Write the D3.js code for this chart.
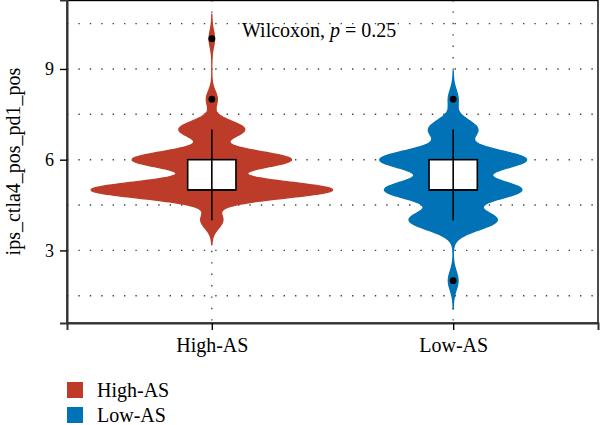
<!DOCTYPE html>
<html>
<head>
<meta charset="utf-8">
<script src="https://cdn.jsdelivr.net/npm/d3@7"></script>
<style>
  body { margin: 0; background: #fff; }
  text { font-family: "Liberation Serif", "DejaVu Serif", serif; fill: #000; }
</style>
</head>
<body>
<div id="chart"></div>
<script>
// groups and colours
const groups = ["High-AS", "Low-AS"];
const groupColors = ["#BC3C29", "#0072B5"];

// IPS scores (integers) and how many samples sit on each score, per group
const scores = [2, 3, 4, 5, 6, 7, 8, 9, 10];
const highCounts = [0, 0, 4, 44, 29, 12, 2, 0, 1];
const lowCounts = [1, 0, 9, 14, 15, 5, 1, 0, 0];

const yTicks = [3, 6, 9];
const yMinorGrid = [1.5, 4.5, 7.5, 10.5];
const yTitle = "ips_ctla4_pos_pd1_pos";
const pValue = "0.25";

const width = 600, height = 425;
const margin = { left: 67, right: 2, top: 0, bottom: 102 };

const svg = d3.select("#chart").append("svg")
    .attr("width", width)
    .attr("height", height)
    .attr("viewBox", [0, 0, width, height]);

const xScale = d3.scaleLinear([0.4, 2.6], [margin.left, width - margin.right]);
const yScale = d3.scaleLinear([0.6, 11.28], [height - margin.bottom, margin.top]);

function expand(counts) {
    const values = [];
    counts.forEach((c, i) => { for (let k = 0; k < c; k++) values.push(scores[i]); });
    return values;
}

// R's bw.nrd0
function bandwidth(values) {
    const iqr = d3.quantile(values, 0.75) - d3.quantile(values, 0.25);
    const lo = Math.min(d3.deviation(values), iqr / 1.34);
    return 0.9 * lo * Math.pow(values.length, -0.2);
}

function kde(values, bw) {
    const lo = d3.min(values) - 3 * bw, hi = d3.max(values) + 3 * bw;
    const pts = d3.range(512).map(i => lo + (hi - lo) * i / 511);
    const k = 1 / (Math.sqrt(2 * Math.PI) * bw * values.length);
    return pts.map(y => ({
        y: y,
        d: k * d3.sum(values, v => Math.exp(-0.5 * ((y - v) / bw) ** 2))
    }));
}

function boxStats(values) {
    const q1 = d3.quantile(values, 0.25), q3 = d3.quantile(values, 0.75);
    const med = d3.quantile(values, 0.5);
    const iqr = q3 - q1;
    const inside = values.filter(v => v >= q1 - 1.5 * iqr && v <= q3 + 1.5 * iqr);
    const outliers = Array.from(new Set(values.filter(v => v < q1 - 1.5 * iqr || v > q3 + 1.5 * iqr)));
    return { q1, q3, med, lo: d3.min(inside), hi: d3.max(inside), outliers };
}

const data = [highCounts, lowCounts].map((counts, i) => {
    const values = expand(counts);
    const bw = bandwidth(values);
    return { name: groups[i], color: groupColors[i], pos: i + 1, dens: kde(values, bw), box: boxStats(values) };
});
const maxDens = d3.max(data, g => d3.max(g.dens, p => p.d));

// grid
const grid = svg.append("g")
    .attr("stroke", "#444")
    .attr("stroke-width", 1.4)
    .attr("stroke-dasharray", "1.4,10");

grid.selectAll(".hgrid")
    .data(yTicks.concat(yMinorGrid))
    .join("line")
    .attr("x1", margin.left)
    .attr("x2", width - margin.right)
    .attr("y1", d => yScale(d))
    .attr("y2", d => yScale(d));

grid.selectAll(".vgrid")
    .data(data)
    .join("line")
    .attr("x1", d => xScale(d.pos))
    .attr("x2", d => xScale(d.pos))
    .attr("y1", margin.top)
    .attr("y2", height - margin.bottom);

// violins (outline in the fill colour, so thin tails still show)
const area = g => d3.area()
    .curve(d3.curveLinear)
    .y(p => yScale(p.y))
    .x0(p => xScale(g.pos - 0.5 * p.d / maxDens))
    .x1(p => xScale(g.pos + 0.5 * p.d / maxDens));

svg.selectAll(".violin")
    .data(data)
    .join("path")
    .attr("fill", d => d.color)
    .attr("stroke", d => d.color)
    .attr("stroke-width", 1.3)
    .attr("stroke-linejoin", "round")
    .attr("d", d => area(d)(d.dens));

// boxes
const boxW = 0.2;
svg.selectAll(".box")
    .data(data)
    .join("rect")
    .attr("x", d => xScale(d.pos - boxW / 2))
    .attr("width", xScale(boxW) - xScale(0))
    .attr("y", d => yScale(d.box.q3))
    .attr("height", d => yScale(d.box.q1) - yScale(d.box.q3))
    .attr("fill", "#fff")
    .attr("stroke", "#000")
    .attr("stroke-width", 1.6);

svg.selectAll(".median")
    .data(data)
    .join("line")
    .attr("x1", d => xScale(d.pos - boxW / 2))
    .attr("x2", d => xScale(d.pos + boxW / 2))
    .attr("y1", d => yScale(d.box.med))
    .attr("y2", d => yScale(d.box.med))
    .attr("stroke", "#000")
    .attr("stroke-width", 1.6);

svg.selectAll(".whisker")
    .data(data)
    .join("line")
    .attr("x1", d => xScale(d.pos))
    .attr("x2", d => xScale(d.pos))
    .attr("y1", d => yScale(d.box.lo))
    .attr("y2", d => yScale(d.box.hi))
    .attr("stroke", "#000")
    .attr("stroke-width", 1.6);

data.forEach(g => {
    svg.selectAll(null)
        .data(g.box.outliers)
        .join("circle")
        .attr("cx", xScale(g.pos))
        .attr("cy", d => yScale(d))
        .attr("r", 3.4)
        .attr("fill", "#000");
});

// panel border
svg.append("rect")
    .attr("x", margin.left)
    .attr("y", margin.top + 0.5)
    .attr("width", width - margin.right - margin.left)
    .attr("height", height - margin.bottom - margin.top - 0.5)
    .attr("fill", "none")
    .attr("stroke", "#000")
    .attr("stroke-width", 1.4);

// axes
const yAxis = svg.append("g")
    .attr("transform", `translate(${margin.left}, 0)`)
    .call(d3.axisLeft(yScale).tickValues(yTicks).tickSize(7).tickPadding(6));

const xAxis = svg.append("g")
    .attr("transform", `translate(0, ${height - margin.bottom})`)
    .call(d3.axisBottom(xScale).tickValues([1, 2]).tickFormat((d, i) => groups[i]).tickSize(7).tickPadding(8));

[yAxis, xAxis].forEach(ax => {
    ax.select(".domain").attr("stroke", "#333").attr("stroke-width", 2);
    ax.selectAll(".tick line").attr("stroke", "#000").attr("stroke-width", 1.4);
    ax.selectAll(".tick text")
        .attr("fill", "#000")
        .style("font-family", '"Liberation Serif", serif')
        .style("font-size", "20px");
});
yAxis.selectAll(".tick text").style("font-size", "18px");

svg.append("text")
    .attr("transform", `translate(20, ${(margin.top + height - margin.bottom) / 2}) rotate(-90)`)
    .attr("text-anchor", "middle")
    .style("font-size", "20px")
    .text(yTitle);

// statistic label
const stat = svg.append("text")
    .attr("x", 242)
    .attr("y", 37)
    .style("font-size", "20px");
stat.append("tspan").text("Wilcoxon, ");
stat.append("tspan").style("font-style", "italic").text("p");
stat.append("tspan").text(" = " + pValue);

// legend
const legend = svg.append("g")
    .attr("transform", "translate(67, 382)");

const item = legend.selectAll("g")
    .data(data)
    .join("g")
    .attr("transform", (d, i) => `translate(0, ${i * 25})`);

item.append("rect")
    .attr("width", 16)
    .attr("height", 16)
    .attr("fill", d => d.color);

item.append("text")
    .attr("x", 30)
    .attr("y", 14.5)
    .style("font-size", "20px")
    .text(d => d.name);
</script>
</body>
</html>
